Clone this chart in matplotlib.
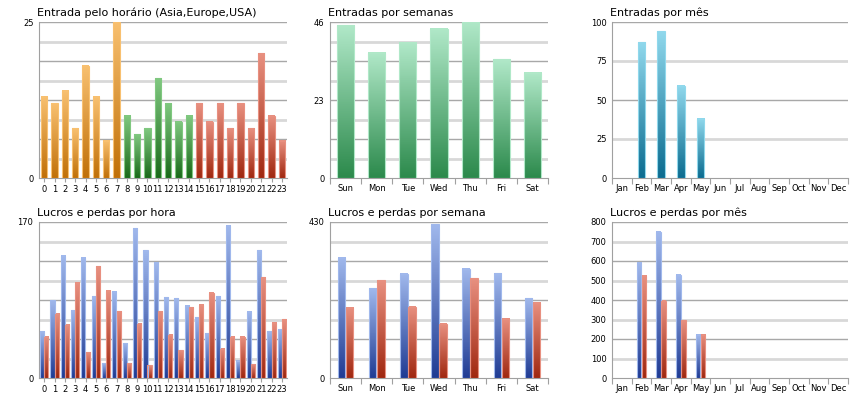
import numpy as np
import matplotlib.pyplot as plt
from matplotlib.colors import LinearSegmentedColormap

hours = [str(h) for h in range(24)]
hour_entries = [13, 12, 14, 8, 18, 13, 6, 25, 10, 7, 8, 16, 12, 9, 10,
                12, 9, 12, 8, 12, 8, 20, 10, 6]
days = ['Sun', 'Mon', 'Tue', 'Wed', 'Thu', 'Fri', 'Sat']
day_entries = [45, 37, 40, 44, 46, 35, 31]
months = ['Jan', 'Feb', 'Mar', 'Apr', 'May', 'Jun', 'Jul', 'Aug', 'Sep', 'Oct', 'Nov', 'Dec']
month_entries = [0, 87, 94, 59, 38, 0, 0, 0, 0, 0, 0, 0]

hour_profit = [51, 85, 133, 74, 131, 89, 16, 94, 38, 163, 139, 126, 88, 87, 79,
               66, 49, 89, 166, 19, 72, 139, 51, 53]
hour_loss = [45, 70, 58, 104, 28, 122, 95, 73, 16, 59, 14, 73, 47, 30, 77,
             80, 93, 32, 45, 45, 15, 110, 60, 64]
day_profit = [331, 247, 287, 424, 301, 289, 220]
day_loss = [193, 270, 196, 149, 275, 163, 207]
month_profit = [0, 590, 750, 530, 222, 0, 0, 0, 0, 0, 0, 0]
month_loss = [0, 525, 395, 295, 222, 0, 0, 0, 0, 0, 0, 0]

ORANGE = ('#f8c070', '#c07008')
GREEN = ('#80c880', '#1a6a1a')
RED = ('#e89080', '#a02810')
BLUE = ('#a0b8ec', '#203c94')
TEAL = ('#90d8ec', '#0c6c90')
MINT = ('#b0e8c8', '#2c8a4c')


def grad_bar(ax, x, h, w, cols, edge):
    if h <= 0:
        return
    cmap = LinearSegmentedColormap.from_list('g', [cols[1], cols[0]])
    img = np.linspace(0, 1, 64).reshape(-1, 1)
    ax.imshow(img, cmap=cmap, origin='lower', aspect='auto',
              extent=(x - w / 2, x + w / 2, 0, h), zorder=3)
    ax.add_patch(plt.Rectangle((x - w / 2, 0), w, h, fill=False,
                               edgecolor=edge, lw=0.8, zorder=4))


def setup(ax, title, n, ymax, ndiv, yticks, labels, sep_ticks=False):
    ax.set_xlim(-0.5, n - 0.5)
    ax.set_ylim(0, ymax)
    for i in range(1, ndiv + 1):
        y = ymax * i / ndiv
        if i % 2 == 0:
            ax.axhline(y, color='#a8a8a8', lw=1.0, zorder=1)
        else:
            ax.axhline(y, color='#d8d8d8', lw=2.0, zorder=1)
    for s in ['top', 'right']:
        ax.spines[s].set_visible(False)
    for s in ['left', 'bottom']:
        ax.spines[s].set_color('#a0a0a0')
    ax.set_yticks(yticks)
    ax.tick_params(axis='y', length=0, labelsize=6, pad=4)
    if sep_ticks:
        ax.set_xticks(np.arange(-0.5, n, 1.0))
        ax.set_xticklabels([])
        ax.set_xticks(range(n), minor=True)
        ax.set_xticklabels(labels, minor=True, fontsize=6)
        ax.tick_params(axis='x', which='minor', length=0, pad=4)
        ax.tick_params(axis='x', which='major', length=4, color='#a0a0a0')
    else:
        ax.set_xticks(range(n))
        ax.set_xticklabels(labels, fontsize=6)
        ax.tick_params(axis='x', length=3, color='#a0a0a0', pad=2)
    ax.set_title(title, loc='left', fontsize=8, pad=4, x=-0.01)


fig = plt.figure(figsize=(8.6, 4), dpi=100)
W, H = 860, 400


def add_ax(x0, y0, x1, y1):
    return fig.add_axes([x0 / W, 1 - y1 / H, (x1 - x0) / W, (y1 - y0) / H])


# top row
ax = add_ax(39, 22, 287, 178)
setup(ax, 'Entrada pelo horário (Asia,Europe,USA)', 24, 25, 8, [0, 25], hours)
for i, v in enumerate(hour_entries):
    c = ORANGE if i < 8 else (GREEN if i < 15 else RED)
    grad_bar(ax, i, v, 0.6, c, c[0])

ax = add_ax(330, 22, 548, 178)
setup(ax, 'Entradas por semanas', 7, 46, 8, [0, 23, 46], days, sep_ticks=True)
for i, v in enumerate(day_entries):
    grad_bar(ax, i, v, 0.55, MINT, MINT[0])

ax = add_ax(612, 22, 848, 178)
setup(ax, 'Entradas por mês', 12, 100, 4, [0, 25, 50, 75, 100], months, sep_ticks=True)
for i, v in enumerate(month_entries):
    grad_bar(ax, i, v, 0.4, TEAL, TEAL[0])

# bottom row
ax = add_ax(39, 222, 287, 378)
setup(ax, 'Lucros e perdas por hora', 24, 170, 8, [0, 170], hours)
for i in range(24):
    grad_bar(ax, i - 0.2, hour_profit[i], 0.4, BLUE, BLUE[0])
    grad_bar(ax, i + 0.2, hour_loss[i], 0.4, RED, RED[0])

ax = add_ax(330, 222, 548, 378)
setup(ax, 'Lucros e perdas por semana', 7, 430, 8, [0, 430], days, sep_ticks=True)
for i in range(7):
    grad_bar(ax, i - 0.13, day_profit[i], 0.24, BLUE, BLUE[0])
    grad_bar(ax, i + 0.13, day_loss[i], 0.24, RED, RED[0])

ax = add_ax(612, 222, 848, 378)
setup(ax, 'Lucros e perdas por mês', 12, 800, 8, list(range(0, 801, 100)), months, sep_ticks=True)
for i in range(12):
    grad_bar(ax, i - 0.13, month_profit[i], 0.24, BLUE, BLUE[0])
    grad_bar(ax, i + 0.13, month_loss[i], 0.24, RED, RED[0])

fig.savefig('out.png', dpi=100)
